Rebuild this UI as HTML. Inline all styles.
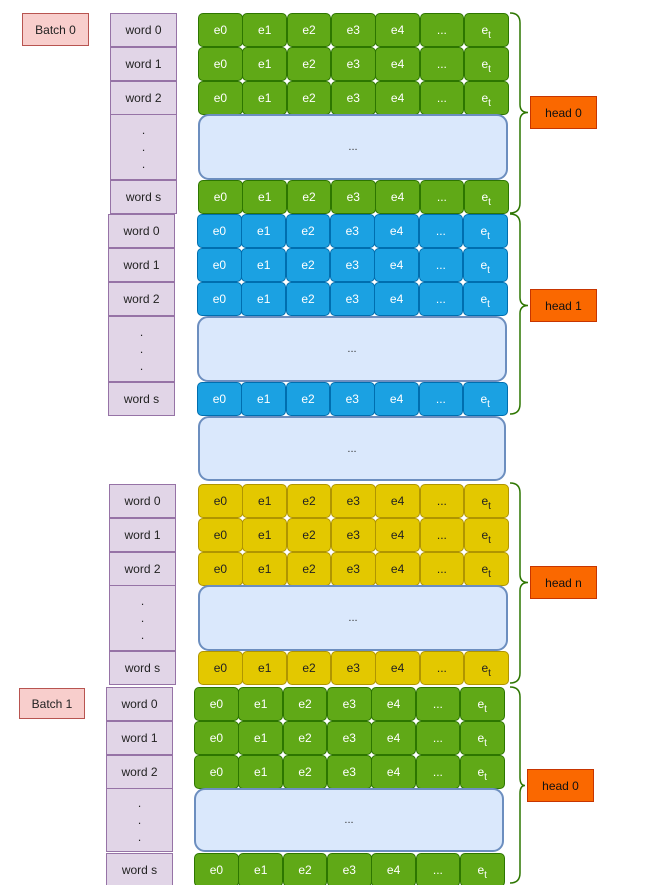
<!DOCTYPE html>
<html><head><meta charset="utf-8">
<style>
html,body{margin:0;padding:0;background:#fff;width:668px;height:885px;overflow:hidden;font-family:"Liberation Sans",sans-serif;}
#root{position:relative;width:668px;height:885px;}
.b{position:absolute;box-sizing:border-box;display:flex;align-items:center;justify-content:center;font-size:12px;}
.word{background:#e1d5e7;border:1.5px solid #9673a6;color:#222;}
.cell{border-radius:5px;border:1.5px solid;}
.green{background:#60a917;border-color:#2d7600;color:#fff;}
.blue{background:#1ba1e2;border-color:#006eaf;color:#fff;}
.yellow{background:#e3c800;border-color:#b09500;color:#222;}
.big{background:#dae8fc;border:2px solid #6c8ebf;border-radius:11px;color:#333;font-size:11px;}
.batch{background:#f8cecc;border:1.5px solid #b85450;color:#222;}
.head{background:#fa6800;border:1.5px solid #c73500;color:#111;}
.dots{flex-direction:column;line-height:17px;font-size:12px;}
sub{font-size:10px;vertical-align:-4px;line-height:0;}
svg{position:absolute;left:0;top:0;}
</style></head>
<body><div id="root">
<svg width="668" height="885" id="braces"></svg>
</div>
<script>
const root=document.getElementById('root');
const svg=document.getElementById('braces');
const labels=['e0','e1','e2','e3','e4','...','e'];
const groups=[
 {c:'green',wx:110,cx:198,rows:[13,47,81],big:[114,180],last:180,head:[530,96,'head 0'],brace:[13,213]},
 {c:'blue',wx:108,cx:197,rows:[214,248,282],big:[316,382],last:382,head:[530,289,'head 1'],brace:[214,414]},
 {c:'yellow',wx:109,cx:198,rows:[484,518,552],big:[585,651],last:651,head:[530,566,'head n'],brace:[483,683]},
 {c:'green',wx:106,cx:194,rows:[687,721,755],big:[788,852],last:853,head:[527,769,'head 0'],brace:[687,883]}
];
function box(cls,x,y,w,h,html,name,inter){
 const d=document.createElement('div');
 d.className='b '+cls;
 d.style.left=x+'px';d.style.top=y+'px';d.style.width=w+'px';d.style.height=h+'px';
 d.innerHTML=html;
 
 
 root.appendChild(d);return d;
}
const cw=44.3,rh=34;
function row(g,y,wlabel){
 box('word',g.wx,y,67,rh,wlabel,'word-label',false);
 for(let i=0;i<7;i++){
  const t=i==6?'<span>e<sub>t</sub></span>':labels[i];
  box('cell '+g.c,g.cx+i*cw,y,cw+0.5,rh,t,'embedding-cell',false);
 }
}
groups.forEach((g)=>{
 g.rows.forEach((y,i)=>row(g,y,'word '+i));
 box('word dots',g.wx,g.big[0],67,g.big[1]-g.big[0],'<span>.</span><span>.</span><span>.</span>','word-ellipsis',false);
 box('big',g.cx,g.big[0],310,g.big[1]-g.big[0],'...','embedding-ellipsis-box',false);
 row(g,g.last,'word s');
 box('head',g.head[0],g.head[1],67,33,g.head[2],'head-label',false);
 const [t,b]=g.brace;const m=g.head[1]+16.5;const x0=510,x1=520,xp=g.head[0]-2;
 const p=document.createElementNS('http://www.w3.org/2000/svg','path');
 p.setAttribute('d',`M${x0} ${t} Q${x1} ${t} ${x1} ${t+10} L${x1} ${m-8} Q${x1} ${m} ${xp} ${m} Q${x1} ${m} ${x1} ${m+8} L${x1} ${b-10} Q${x1} ${b} ${x0} ${b}`);
 p.setAttribute('fill','none');p.setAttribute('stroke','#2d7600');p.setAttribute('stroke-width','1.5');
 
 
 svg.appendChild(p);
});
box('big',198,416,308,65,'...','head-ellipsis-box',false);
box('batch',22,13,67,33,'Batch 0','batch-0-label',false);
box('batch',19,688,66,31,'Batch 1','batch-1-label',false);
</script>
</body></html>
